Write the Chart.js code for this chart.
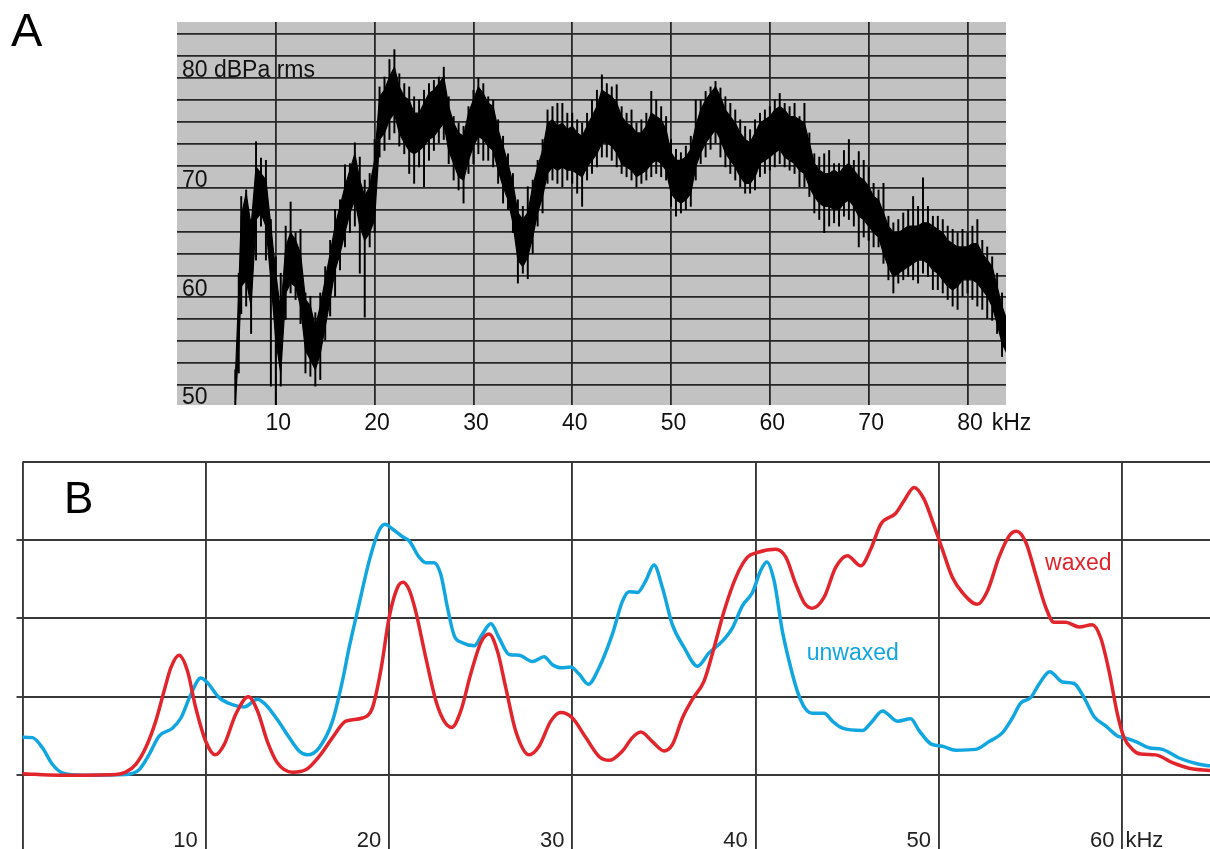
<!DOCTYPE html>
<html>
<head>
<meta charset="utf-8">
<title>Spectra A / B</title>
<script src="https://cdn.jsdelivr.net/npm/chart.js@4.4.1/dist/chart.umd.min.js"></script>
<style>
  body { margin: 0; background: #fff; }
  #wrap { position: relative; width: 1210px; height: 849px; overflow: hidden; }
  canvas { position: absolute; left: 0; }
  #chartA { top: 0; }
  #chartB { top: 440px; }
</style>
</head>
<body>
<div id="wrap">
  <canvas id="chartA" width="1210" height="440"></canvas>
  <canvas id="chartB" width="1210" height="409"></canvas>
</div>
<script>
// ---- Panel A: sound level spectrum (kHz vs dBPa rms) ----
const aFreq = [
  5.9, 6.25, 6.5, 7, 7.5, 8, 8.5, 9, 9.5, 10, 10.5,
  11, 11.5, 12, 12.5, 13, 13.5, 14, 14.5, 15, 15.5,
  16, 16.5, 17, 17.5, 18, 18.5, 19, 19.5, 20, 20.5,
  21, 21.5, 22, 22.5, 23, 23.5, 24, 24.5, 25, 25.5,
  26, 26.5, 27, 27.5, 28, 28.5, 29, 29.5, 30, 30.5,
  31, 31.5, 32, 32.5, 33, 33.5, 34, 34.5, 35, 35.5,
  36, 36.5, 37, 37.5, 38, 38.5, 39, 39.5, 40, 40.5,
  41, 41.5, 42, 42.5, 43, 43.5, 44, 44.5, 45, 45.5,
  46, 46.5, 47, 47.5, 48, 48.5, 49, 49.5, 50, 50.5,
  51, 51.5, 52, 52.5, 53, 53.5, 54, 54.5, 55, 55.5,
  56, 56.5, 57, 57.5, 58, 58.5, 59, 59.5, 60, 60.5,
  61, 61.5, 62, 62.5, 63, 63.5, 64, 64.5, 65, 65.5,
  66, 66.5, 67, 67.5, 68, 68.5, 69, 69.5, 70, 70.5,
  71, 71.5, 72, 72.5, 73, 73.5, 74, 74.5, 75, 75.5,
  76, 76.5, 77, 77.5, 78, 78.5, 79, 79.5, 80, 80.5,
  81, 81.5, 82, 82.5, 83, 83.5, 84
];
// dense part of the trace (upper / lower edge)
const aCoreHi = [
  52.5, 60.5, 67.4, 69.5, 66.5, 71.9, 71.3, 70.7, 66.5, 62.2, 58.6,
  64.6, 65.9, 65.2, 64.0, 59.8, 59.2, 57.3, 59.2, 61.6, 64.0,
  66.5, 68.3, 70.1, 71.6, 73.1, 70.7, 69.2, 70.1, 72.5, 78.3,
  78.9, 80.1, 81.0, 79.2, 78.3, 78.0, 76.8, 76.8, 77.7, 78.6,
  78.9, 79.5, 80.1, 77.4, 75.9, 75.0, 74.7, 76.8, 78.0, 79.2,
  78.6, 77.7, 77.4, 75.3, 73.8, 72.2, 70.4, 67.7, 67.1, 67.7,
  70.1, 71.9, 73.4, 75.9, 76.2, 75.6, 75.9, 75.3, 75.6, 75.0,
  74.7, 75.6, 76.5, 77.4, 78.9, 78.6, 78.3, 77.7, 76.5, 75.9,
  75.6, 75.0, 75.0, 75.6, 76.8, 76.5, 76.2, 75.3, 73.2, 72.5,
  72.5, 72.8, 73.5, 75.6, 77.1, 78.0, 78.6, 79.2, 78.3, 77.1,
  76.5, 75.9, 75.0, 74.4, 74.1, 75.0, 75.9, 76.2, 76.5, 77.1,
  77.4, 77.1, 76.5, 76.5, 76.2, 75.9, 74.1, 72.2, 71.6, 71.3,
  71.3, 71.6, 71.3, 71.9, 72.2, 71.6, 71.0, 70.7, 70.1, 69.2,
  68.9, 67.7, 66.5, 65.9, 65.9, 66.2, 66.5, 66.5, 66.5, 66.8,
  66.8, 66.5, 66.2, 65.9, 65.2, 64.9, 64.6, 64.6, 64.6, 64.9,
  64.9, 64.0, 63.4, 62.8, 61.0, 59.2, 57.9
];
const aCoreLo = [
  50.2, 55.5, 61.0, 61.6, 59.2, 67.1, 67.7, 66.5, 61.6, 56.1, 53.1,
  60.4, 61.3, 61.0, 59.2, 55.2, 54.3, 53.4, 54.9, 57.3, 59.8,
  62.5, 64.0, 65.9, 67.7, 68.9, 66.5, 65.2, 65.9, 67.1, 74.4,
  75.0, 76.2, 76.8, 75.0, 74.1, 73.4, 73.1, 73.4, 73.8, 74.4,
  74.7, 75.3, 75.9, 73.4, 72.2, 71.0, 70.7, 72.5, 73.8, 74.7,
  74.4, 73.8, 73.4, 71.6, 70.1, 68.9, 66.8, 63.4, 62.8, 63.7,
  65.5, 67.7, 69.2, 71.3, 71.9, 71.6, 71.9, 71.6, 71.6, 71.3,
  71.0, 71.9, 72.5, 73.1, 74.1, 74.1, 73.8, 73.2, 72.2, 71.9,
  71.6, 71.0, 71.3, 71.6, 72.2, 72.5, 72.2, 71.6, 69.5, 68.9,
  68.6, 68.9, 69.5, 71.9, 73.2, 74.1, 74.7, 75.3, 74.4, 73.2,
  72.5, 71.9, 71.0, 70.4, 70.4, 71.0, 72.2, 72.5, 72.8, 73.2,
  73.5, 72.8, 72.5, 72.2, 71.6, 71.3, 70.1, 69.2, 68.6, 68.3,
  68.3, 68.0, 68.0, 68.6, 68.9, 68.3, 67.4, 67.1, 66.5, 65.9,
  65.5, 64.0, 62.8, 61.9, 62.2, 62.5, 62.8, 63.1, 63.4, 63.4,
  63.1, 62.5, 62.2, 61.6, 61.0, 60.7, 61.0, 61.6, 61.6, 61.6,
  61.3, 60.7, 60.1, 59.2, 57.6, 55.8, 54.9
];
// thin spikes reaching out of the dense part
const aPeakHi = [
  53.4, 62.2, 69.2, 69.8, 67.1, 74.2, 72.7, 72.5, 67.1, 63.7, 62.2,
  66.5, 68.7, 65.9, 66.2, 60.4, 60.1, 58.6, 60.4, 62.8, 65.2,
  68.0, 68.9, 72.1, 72.2, 74.1, 72.8, 70.7, 71.3, 74.4, 79.2,
  80.1, 81.7, 82.6, 80.4, 79.5, 79.2, 78.3, 78.0, 78.9, 79.5,
  79.8, 80.1, 81.0, 78.3, 76.5, 75.9, 75.6, 77.4, 78.9, 80.0,
  79.5, 78.3, 78.0, 76.2, 74.7, 73.1, 71.3, 68.9, 68.3, 70.1,
  70.7, 72.5, 74.4, 77.1, 77.4, 77.7, 77.7, 76.8, 76.8, 76.2,
  75.9, 76.8, 78.0, 78.9, 80.3, 79.5, 79.2, 79.4, 77.4, 76.8,
  77.1, 75.9, 76.2, 76.8, 78.8, 78.0, 77.4, 76.5, 74.4, 73.5,
  73.2, 73.8, 74.7, 78.0, 78.0, 78.8, 79.2, 79.7, 79.1, 78.3,
  77.7, 77.1, 76.2, 75.6, 75.3, 76.2, 76.8, 77.1, 77.4, 78.0,
  78.6, 77.7, 77.4, 77.7, 76.5, 77.7, 75.0, 73.1, 72.8, 73.1,
  73.4, 72.2, 72.2, 73.4, 74.4, 72.5, 73.3, 72.5, 71.9, 70.4,
  69.8, 70.4, 67.4, 66.8, 67.1, 67.7, 68.0, 69.2, 68.3, 70.9,
  68.3, 67.4, 67.4, 67.1, 66.5, 66.2, 65.9, 66.2, 65.9, 66.5,
  67.1, 65.2, 64.6, 63.7, 62.2, 60.4, 58.9
];
const aPeakLo = [
  50.2, 53.1, 58.5, 59.2, 56.7, 63.4, 66.5, 63.4, 51.9, 50.2, 51.9,
  58.0, 60.4, 59.8, 57.6, 53.1, 52.8, 51.9, 52.5, 56.1, 58.3,
  60.1, 62.5, 64.6, 65.9, 66.5, 62.2, 58.2, 64.6, 65.9, 72.8,
  73.4, 74.4, 75.0, 73.8, 73.1, 71.3, 70.4, 71.9, 70.1, 72.5,
  73.4, 74.1, 74.4, 72.2, 70.7, 69.8, 68.6, 71.3, 72.2, 73.1,
  72.5, 72.5, 71.9, 70.4, 68.6, 68.0, 65.9, 61.3, 62.2, 61.7,
  64.0, 66.5, 67.7, 70.4, 70.7, 70.4, 70.1, 70.7, 70.4, 69.5,
  68.3, 70.7, 71.3, 71.9, 72.8, 72.8, 72.5, 71.9, 71.3, 71.0,
  70.7, 70.1, 70.4, 70.7, 71.0, 71.3, 71.0, 70.7, 68.3, 67.4,
  67.7, 68.0, 68.3, 70.7, 72.2, 72.8, 73.5, 74.1, 72.8, 71.9,
  71.3, 70.7, 70.1, 69.5, 69.5, 69.8, 71.0, 71.3, 71.6, 71.9,
  72.2, 71.9, 71.6, 71.3, 70.1, 70.1, 69.2, 67.7, 67.1, 65.9,
  66.5, 66.8, 66.5, 67.4, 67.1, 66.5, 64.6, 65.5, 65.2, 64.6,
  64.6, 63.1, 61.6, 60.4, 61.3, 61.6, 61.9, 61.6, 61.3, 62.2,
  61.9, 60.7, 60.7, 60.4, 59.8, 59.2, 58.9, 60.1, 60.4, 59.8,
  59.2, 58.9, 58.1, 57.9, 56.7, 54.6, 53.4
];
const aFreqTicks = [10, 20, 30, 40, 50, 60, 70, 80];
const aFreqLabels = ['10', '20', '30', '40', '50', '60', '70', '80'];
const aFreqUnit = 'kHz';
const aDbGrid = [52, 54, 56, 58, 60, 62, 64, 66, 68, 70, 72, 74, 76, 78, 80, 82, 84];
const aDbTicks = [50, 60, 70, 80];
const aDbLabels = ['50', '60', '70', '80 dBPa rms'];

// ---- Panel B: waxed vs unwaxed spectra (relative level) ----
const bBlueKHz = [
  0, 0.54, 1.09, 1.63, 2.18, 3.27, 5.63, 6.36, 6.9, 7.45,
  8.18, 8.64, 9.18, 9.73, 10.09, 10.73, 11.45, 12.09, 12.82, 13.27,
  13.9, 14.55, 15.09, 15.54, 16.18, 16.91, 17.45, 17.82, 18.36, 18.91,
  19.45, 19.78, 20.18, 20.73, 21.09, 21.64, 22.0, 22.45, 22.82, 23.18,
  23.55, 24.0, 24.64, 25.09, 25.55, 26.0, 26.55, 27.09, 27.82, 28.45,
  28.91, 29.36, 29.91, 30.36, 30.87, 31.45, 32.18, 32.73, 33.09, 33.55,
  34.0, 34.45, 34.91, 35.45, 36.09, 36.82, 37.45, 38.18, 38.73, 39.27,
  39.82, 40.27, 40.6, 41.0, 41.45, 41.91, 42.3, 42.7, 43.09, 43.73,
  44.18, 44.73, 45.82, 46.36, 46.91, 47.73, 48.45, 48.91, 49.55, 50.18,
  50.91, 52.0, 52.73, 53.45, 54.0, 54.45, 55.0, 55.45, 56.04, 56.73,
  57.36, 57.91, 58.45, 59.09, 59.73, 60.09, 60.73, 61.45, 62.18, 63.09,
  64.18, 64.78
];
const bUnwaxed = [
  0.485, 0.48, 0.35, 0.14, 0.03, 0.0, 0.01, 0.07, 0.26, 0.5,
  0.6, 0.73, 1.03, 1.24, 1.18, 0.99, 0.90, 0.87, 0.97, 0.9,
  0.71, 0.48, 0.31, 0.26, 0.35, 0.69, 1.2, 1.63, 2.18, 2.73,
  3.12, 3.2, 3.14, 3.04, 2.99, 2.78, 2.71, 2.71, 2.56, 2.14,
  1.78, 1.69, 1.65, 1.80, 1.93, 1.75, 1.54, 1.53, 1.45, 1.51,
  1.41, 1.37, 1.38, 1.29, 1.16, 1.37, 1.80, 2.22, 2.34, 2.33,
  2.48, 2.68, 2.39, 1.92, 1.63, 1.39, 1.56, 1.71, 1.88, 2.16,
  2.33, 2.61, 2.72, 2.48, 1.84, 1.37, 1.05, 0.85, 0.79, 0.79,
  0.69, 0.6, 0.57, 0.69, 0.82, 0.69, 0.72, 0.57, 0.40, 0.37,
  0.32, 0.33, 0.43, 0.54, 0.73, 0.92, 0.99, 1.16, 1.32, 1.19,
  1.17, 0.99, 0.75, 0.63, 0.5, 0.48, 0.43, 0.35, 0.33, 0.22,
  0.14, 0.12
];
const bRedKHz = [
  0, 2.0, 5.09, 5.63, 6.18, 6.72, 7.27, 7.72, 8.09, 8.54,
  9.0, 9.45, 10.0, 10.51, 11.0, 11.64, 12.32, 12.82, 13.36, 13.9,
  14.73, 15.45, 16.18, 16.91, 17.64, 18.54, 19.09, 19.54, 20.0, 20.45,
  20.76, 21.1, 21.45, 22.0, 22.55, 23.0, 23.42, 23.91, 24.45, 25.0,
  25.45, 25.91, 26.36, 26.91, 27.64, 28.18, 28.82, 29.36, 30.0, 30.73,
  31.45, 32.0, 32.73, 33.27, 33.73, 34.36, 35.0, 35.45, 36.0, 36.55,
  37.18, 37.73, 38.27, 38.91, 39.55, 40.09, 41.09, 41.64, 42.18, 42.64,
  43.09, 43.73, 44.36, 45.0, 45.73, 46.27, 46.82, 47.64, 48.09, 48.64,
  49.18, 49.64, 50.18, 50.73, 51.27, 52.09, 52.64, 53.27, 53.82, 54.22,
  54.73, 55.27, 55.82, 56.27, 56.91, 57.64, 58.36, 58.82, 59.27, 59.73,
  60.09, 60.55, 61.0, 61.82, 62.73, 63.64, 64.78
];
const bWaxed = [
  0.02, 0.0, 0.01, 0.04, 0.14, 0.35, 0.69, 1.07, 1.37, 1.53,
  1.33, 0.86, 0.43, 0.26, 0.39, 0.78, 1.0, 0.82, 0.43, 0.16,
  0.04, 0.07, 0.24, 0.48, 0.69, 0.73, 0.86, 1.33, 2.01, 2.39,
  2.46, 2.36, 2.09, 1.50, 0.95, 0.69, 0.61, 0.82, 1.29, 1.69,
  1.80, 1.58, 1.12, 0.56, 0.26, 0.37, 0.69, 0.8, 0.73, 0.48,
  0.24, 0.19, 0.31, 0.48, 0.55, 0.43, 0.31, 0.39, 0.73, 0.97,
  1.2, 1.63, 2.09, 2.52, 2.78, 2.84, 2.88, 2.78, 2.44, 2.2,
  2.13, 2.27, 2.65, 2.8, 2.67, 2.88, 3.2, 3.34, 3.5, 3.67,
  3.52, 3.24, 2.88, 2.52, 2.33, 2.18, 2.35, 2.78, 3.05, 3.11,
  2.97, 2.56, 2.14, 1.95, 1.95, 1.89, 1.92, 1.75, 1.33, 0.78,
  0.48, 0.33, 0.27, 0.26, 0.16, 0.09, 0.06
];
const bFreqGrid = [0, 10, 20, 30, 40, 50, 60];
const bFreqTicks = [10, 20, 30, 40, 50, 60];
const bFreqLabels = ['10', '20', '30', '40', '50', '60'];
const bFreqUnit = 'kHz';
const bLevelGrid = [0, 1, 2, 3, 4];
const bLevelTicks = [0, 1, 2, 3];
const bNotes = [
  { text: 'waxed', x: 55.78, y: 2.62, color: '#e2252c' },
  { text: 'unwaxed', x: 42.78, y: 1.47, color: '#12a6e0' }
];

const FONT = '"Liberation Sans", Arial, Helvetica, sans-serif';
const RED = '#e2252c';
const BLUE = '#12a6e0';

function pts(xs, ys) {
  return xs.map((x, i) => ({ x: x, y: ys[i] }));
}
function fixedTicks(values) {
  return function (scale) {
    scale.ticks = values.map(v => ({ value: v }));
  };
}
function noSize(scale) {
  if (scale.isHorizontal()) scale.height = 0;
  else scale.width = 0;
}
function gridScale(min, max, ticks, color, width) {
  return {
    type: 'linear', min: min, max: max, offset: false,
    afterBuildTicks: fixedTicks(ticks), afterFit: noSize,
    ticks: { display: false },
    border: { display: false },
    grid: { color: color, lineWidth: width, drawTicks: false, offset: false }
  };
}

// gray plot background, tick labels and the panel letter
const panelA = {
  id: 'panelA',
  beforeDraw(chart) {
    const { ctx, chartArea: a } = chart;
    ctx.save();
    ctx.fillStyle = '#c2c2c2';
    ctx.fillRect(a.left, a.top, a.right - a.left, a.bottom - a.top);
    ctx.restore();
  },
  afterDraw(chart) {
    const { ctx, chartArea: a } = chart;
    const x = chart.scales.x, y = chart.scales.y;
    ctx.save();
    ctx.fillStyle = '#111';
    ctx.textBaseline = 'alphabetic';
    ctx.textAlign = 'left';
    ctx.font = '23px ' + FONT;
    aDbTicks.forEach((v, i) => {
      ctx.fillText(aDbLabels[i], a.left + 5, Math.min(y.getPixelForValue(v), a.bottom) - 1);
    });
    aFreqTicks.forEach((v, i) => {
      const t = aFreqLabels[i];
      const w = ctx.measureText(t).width;
      const cx = x.getPixelForValue(v) + 2.5;
      ctx.fillText(t, cx - w / 2, 430);
      if (i === aFreqTicks.length - 1) ctx.fillText(aFreqUnit, cx + w / 2 + 9, 430);
    });
    ctx.font = '47px ' + FONT;
    ctx.fillStyle = '#000';
    ctx.fillText('A', 11, 46);
    ctx.restore();
  }
};

const panelB = {
  id: 'panelB',
  afterDraw(chart) {
    const { ctx, chartArea: a } = chart;
    const x = chart.scales.x, y = chart.scales.y;
    ctx.save();
    ctx.strokeStyle = '#383838';
    ctx.lineWidth = 1.9;
    bLevelTicks.forEach(v => {
      const py = Math.round(y.getPixelForValue(v));
      ctx.beginPath();
      ctx.moveTo(a.left - 6, py);
      ctx.lineTo(a.left, py);
      ctx.stroke();
    });
    ctx.fillStyle = '#222';
    ctx.font = '22px ' + FONT;
    ctx.textBaseline = 'alphabetic';
    ctx.textAlign = 'right';
    bFreqTicks.forEach((v, i) => {
      ctx.fillText(bFreqLabels[i], x.getPixelForValue(v) - 8, a.bottom - 2);
    });
    ctx.textAlign = 'left';
    ctx.fillText(bFreqUnit, x.getPixelForValue(bFreqTicks[bFreqTicks.length - 1]) + 3, a.bottom - 2);
    ctx.font = '23px ' + FONT;
    bNotes.forEach(n => {
      ctx.fillStyle = n.color;
      ctx.fillText(n.text, x.getPixelForValue(n.x), y.getPixelForValue(n.y));
    });
    ctx.fillStyle = '#000';
    ctx.font = '44px ' + FONT;
    ctx.fillText('B', 64, 73);
    ctx.restore();
  }
};

new Chart(document.getElementById('chartA'), {
  type: 'line',
  data: {
    datasets: [
      {
        type: 'line', data: pts(aFreq, aCoreHi), fill: '+1',
        backgroundColor: '#000', borderColor: '#000', borderWidth: 1.2,
        pointRadius: 0, tension: 0, order: 2
      },
      {
        type: 'line', data: pts(aFreq, aCoreLo), fill: false,
        borderColor: '#000', borderWidth: 1.2, pointRadius: 0, tension: 0, order: 2
      },
      {
        type: 'bar', data: aFreq.map((f, i) => ({ x: f, y: [aPeakLo[i], aPeakHi[i]] })),
        backgroundColor: '#000', barThickness: 1.3, grouped: false, order: 1
      }
    ]
  },
  options: {
    responsive: false,
    animation: false,
    devicePixelRatio: 1,
    layout: { padding: { left: 177, right: 204, top: 22, bottom: 35 } },
    plugins: { legend: { display: false }, tooltip: { enabled: false } },
    scales: {
      x: gridScale(0, 83.9, aFreqTicks, '#262626', 1.8),
      y: gridScale(50.18, 85.12, aDbGrid, '#262626', 1.8)
    }
  },
  plugins: [panelA]
});

new Chart(document.getElementById('chartB'), {
  type: 'line',
  data: {
    datasets: [
      {
        label: 'waxed', data: pts(bRedKHz, bWaxed), borderColor: RED,
        borderWidth: 3.5, pointRadius: 0, cubicInterpolationMode: 'monotone',
        borderJoinStyle: 'round', borderCapStyle: 'round', fill: false, order: 0
      },
      {
        label: 'unwaxed', data: pts(bBlueKHz, bUnwaxed), borderColor: BLUE,
        borderWidth: 3.5, pointRadius: 0, cubicInterpolationMode: 'monotone',
        borderJoinStyle: 'round', borderCapStyle: 'round', fill: false, order: 1
      }
    ]
  },
  options: {
    responsive: false,
    animation: false,
    devicePixelRatio: 1,
    layout: { padding: { left: 22.5, right: 0, top: 21.5, bottom: 0 } },
    plugins: { legend: { display: false }, tooltip: { enabled: false } },
    scales: {
      x: gridScale(0, 64.78, bFreqGrid, '#383838', 1.9),
      y: gridScale(-0.94, 4, bLevelGrid, '#383838', 1.9)
    }
  },
  plugins: [panelB]
});
</script>
</body>
</html>
